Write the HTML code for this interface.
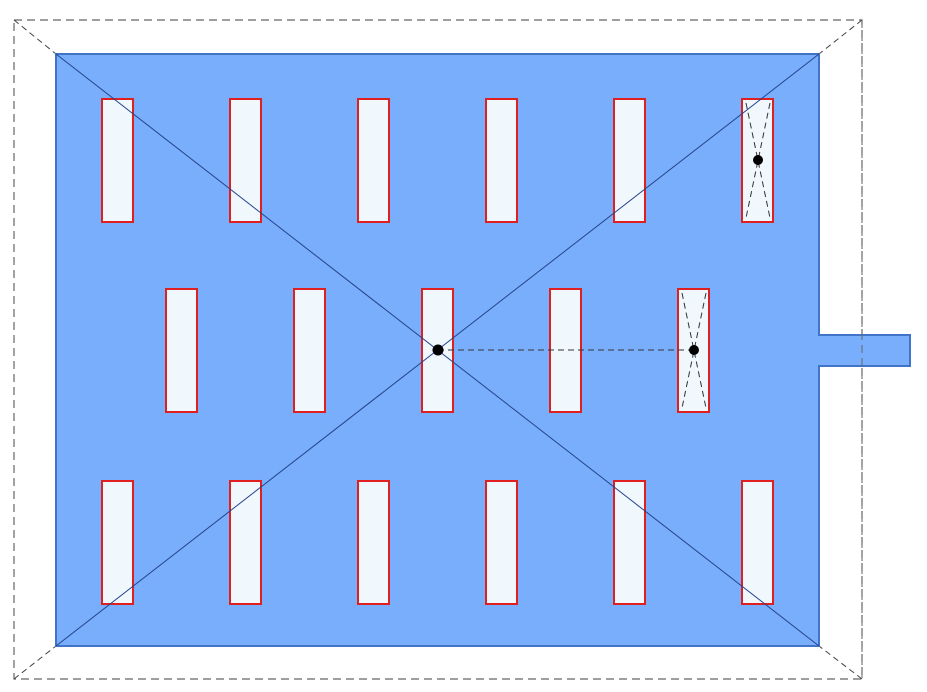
<!DOCTYPE html>
<html><head><style>html,body{margin:0;padding:0;background:#fff;}svg{display:block}</style></head>
<body>
<svg width="927" height="692" viewBox="0 0 927 692" xmlns="http://www.w3.org/2000/svg">
<rect x="14" y="20" width="848" height="659" fill="none" stroke="#666" stroke-width="1.2" stroke-dasharray="8,5"/>
<g stroke="#444" stroke-width="1" stroke-dasharray="6,4">
<line x1="14" y1="20" x2="56" y2="54"/>
<line x1="862" y1="20" x2="819" y2="54"/>
<line x1="14" y1="679" x2="56" y2="646"/>
<line x1="862" y1="679" x2="819" y2="646"/>
</g>
<path d="M56 54 H819 V335 H910 V366 H819 V646 H56 Z" fill="#78aefc" stroke="#3f74c9" stroke-width="2"/>
<line x1="862" y1="20" x2="862" y2="679" stroke="#666" stroke-width="1" stroke-dasharray="8,5"/>
<g fill="#f0f7fd" stroke="#e02020" stroke-width="2">
<rect x="102" y="99" width="31" height="123"/><rect x="230" y="99" width="31" height="123"/><rect x="358" y="99" width="31" height="123"/><rect x="486" y="99" width="31" height="123"/><rect x="614" y="99" width="31" height="123"/><rect x="742" y="99" width="31" height="123"/>
<rect x="166" y="289" width="31" height="123"/><rect x="294" y="289" width="31" height="123"/><rect x="422" y="289" width="31" height="123"/><rect x="550" y="289" width="31" height="123"/><rect x="678" y="289" width="31" height="123"/>
<rect x="102" y="481" width="31" height="123"/><rect x="230" y="481" width="31" height="123"/><rect x="358" y="481" width="31" height="123"/><rect x="486" y="481" width="31" height="123"/><rect x="614" y="481" width="31" height="123"/><rect x="742" y="481" width="31" height="123"/>
</g>
<g stroke="#24448a" stroke-width="1">
<line x1="56" y1="54" x2="819" y2="646"/>
<line x1="819" y1="54" x2="56" y2="646"/>
</g>
<g stroke="#333" stroke-width="1" stroke-dasharray="6,4">
<line x1="746" y1="103" x2="770" y2="218"/><line x1="770" y1="103" x2="746" y2="218"/>
<line x1="682" y1="293" x2="706" y2="408"/><line x1="706" y1="293" x2="682" y2="408"/>
<line x1="438" y1="350" x2="694" y2="350"/>
</g>
<g fill="#000"><circle cx="758" cy="160" r="5"/><circle cx="438" cy="350" r="5.5"/><circle cx="694" cy="350" r="5"/></g>
</svg>
</body></html>
